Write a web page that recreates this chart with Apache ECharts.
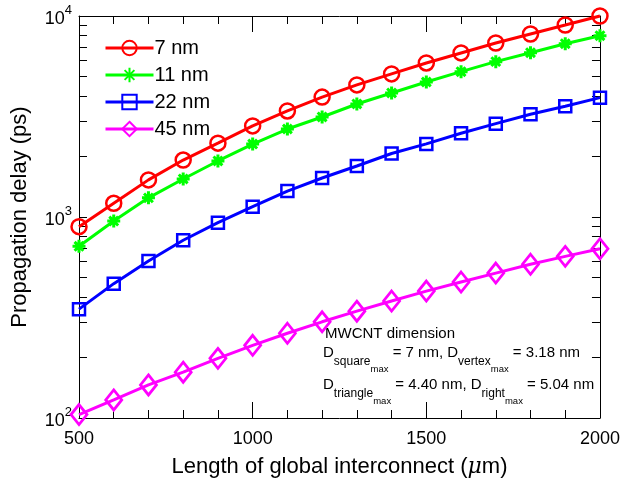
<!DOCTYPE html>
<html><head><meta charset="utf-8">
<script src="https://cdn.jsdelivr.net/npm/echarts@6/dist/echarts.min.js"></script>
<style>html,body{margin:0;padding:0;background:#fff}#c{width:623px;height:485px}</style>
</head><body><div id="c"></div>
<script>
const lengths = [500,600,700,800,900,1000,1100,1200,1300,1400,1500,1600,1700,1800,1900,2000];
const delay7nm  = [895,1170,1530,1920,2330,2840,3370,3950,4540,5150,5840,6550,7340,8140,9020,10000];
const delay11nm = [715,955,1245,1546,1900,2307,2740,3145,3650,4140,4695,5285,5929,6567,7283,7980];
const delay22nm = [348,466,604,766,937,1125,1346,1563,1794,2070,2310,2609,2913,3243,3554,3925];
const delay45nm = [104,123,146,169,198,230,264,301,340,382,428,475,526,582,637,695];
const seriesNames = ['7 nm','11 nm','22 nm','45 nm'];
const yTickValues = [100,200,300,400,500,600,700,800,900,1000,2000,3000,4000,5000,6000,7000,8000,9000,10000];

const FONT = "'Liberation Sans', Arial, Helvetica, sans-serif";
const chart = echarts.init(document.getElementById('c'), null, {renderer:'canvas'});

function mk(name, vals, color, symbol, size, bw){
  return {
    name, type:'line', data: lengths.map((x,i)=>[x, vals[i]]),
    symbol, symbolSize:size, showAllSymbol:true, clip:false,
    lineStyle:{color, width:3},
    itemStyle:{color:'rgba(0,0,0,0)', borderColor:color, borderWidth:bw},
    emphasis:{disabled:true}, animation:false
  };
}
const asterisk = 'path://M5 0L5 10M0 5L10 5M1.6 1.6L8.4 8.4M1.6 8.4L8.4 1.6';

const yLabel = {
  formatter: v => '{b|10}{s|' + Math.round(Math.log10(v)) + '}',
  rich:{ b:{fontSize:18, fontFamily:FONT, color:'#000', lineHeight:24, verticalAlign:'bottom'},
         s:{fontSize:13, fontFamily:FONT, color:'#000', verticalAlign:'top'} },
  margin:7
};

const option = {
  backgroundColor:'#fff',
  animation:false,
  grid:{left:79, right:23, top:16, bottom:67, containLabel:false},
  legend:{
    orient:'vertical', left:99, top:32, itemWidth:48, itemHeight:18, itemGap:5,
    data: seriesNames,
    lineStyle:{width:3},
    textStyle:{fontSize:20, fontFamily:FONT, color:'#000', padding:[0,0,0,-4], lineHeight:22},
    selectedMode:false
  },
  xAxis:[{
    type:'value', min:500, max:2000, interval:500, position:'bottom',
    name:'Length of global interconnect ({mu|μ}m)', nameLocation:'middle', nameGap:38,
    nameTextStyle:{fontSize:22, fontFamily:FONT, color:'#000',
      rich:{mu:{fontSize:22, fontFamily:"'DejaVu Serif', serif", fontStyle:'italic', color:'#000'}}},
    axisLine:{show:true, lineStyle:{color:'#000', width:1}},
    axisTick:{show:true, inside:true, length:16, lineStyle:{color:'#000'}},
    minorTick:{show:true, splitNumber:5, length:8, lineStyle:{color:'#000'}},
    splitLine:{show:false},
    axisLabel:{fontSize:18, fontFamily:FONT, color:'#000', margin:12, formatter: v => String(v)}
  },{
    type:'value', min:500, max:2000, interval:500, position:'top',
    axisLine:{show:true, onZero:false, lineStyle:{color:'#000', width:1}},
    axisTick:{show:true, inside:true, length:16, lineStyle:{color:'#000'}},
    minorTick:{show:true, splitNumber:5, length:8, lineStyle:{color:'#000'}},
    splitLine:{show:false}, axisLabel:{show:false}
  }],
  yAxis:[{
    type:'log', logBase:10, min:100, max:10000, position:'left',
    name:'Propagation delay (ps)', nameLocation:'middle', nameGap:48, nameRotate:90,
    nameTextStyle:{fontSize:22, fontFamily:FONT, color:'#000'},
    axisLine:{show:true, lineStyle:{color:'#000', width:1}},
    axisTick:{show:true, inside:true, length:8, customValues:yTickValues, lineStyle:{color:'#000'}},
    splitLine:{show:false},
    axisLabel:yLabel
  },{
    type:'log', logBase:10, min:100, max:10000, position:'right',
    axisLine:{show:true, onZero:false, lineStyle:{color:'#000', width:1}},
    axisTick:{show:true, inside:true, length:8, customValues:yTickValues, lineStyle:{color:'#000'}},
    splitLine:{show:false}, axisLabel:{show:false}
  }],
  series:[
    mk(seriesNames[0], delay7nm, '#ff0000', 'circle', 15, 2.5),
    mk(seriesNames[1], delay11nm, '#00ff00', asterisk, 13, 3),
    mk(seriesNames[2], delay22nm, '#0000ff', 'rect', 12, 2.5),
    mk(seriesNames[3], delay45nm, '#ff00ff', 'diamond', [16,20], 2.8)
  ]
};

// annotation text
const ctx = document.createElement('canvas').getContext('2d');
function w(t, size){ ctx.font = size + 'px ' + FONT; return ctx.measureText(t).width; }
const graphics = [];
function txt(t, x, y, size){
  graphics.push({type:'text', x, y, silent:true,
    style:{text:t, font: size + 'px ' + FONT, fill:'#000', textVerticalAlign:'middle', verticalAlign:'middle'}});
  return x + w(t, size);
}
txt('MWCNT dimension', 325, 334, 15);
function dline(parts, y){
  let x = 323;
  parts.forEach(p => {
    const [t, lvl] = p;
    const size = lvl === 0 ? 15 : (lvl === 1 ? 12 : 9.5);
    const dy = lvl === 0 ? 0 : (lvl === 1 ? 9 : 16);
    x = txt(t, x, y + dy, size);
  });
}
dline([['D',0],['square',1],['max',2],[' = 7 nm, D',0],['vertex',1],['max',2],[' = 3.18 nm',0]], 353);
dline([['D',0],['triangle',1],['max',2],[' = 4.40 nm, D',0],['right',1],['max',2],[' = 5.04 nm',0]], 385);
option.graphic = graphics;

chart.setOption(option);
</script></body></html>
